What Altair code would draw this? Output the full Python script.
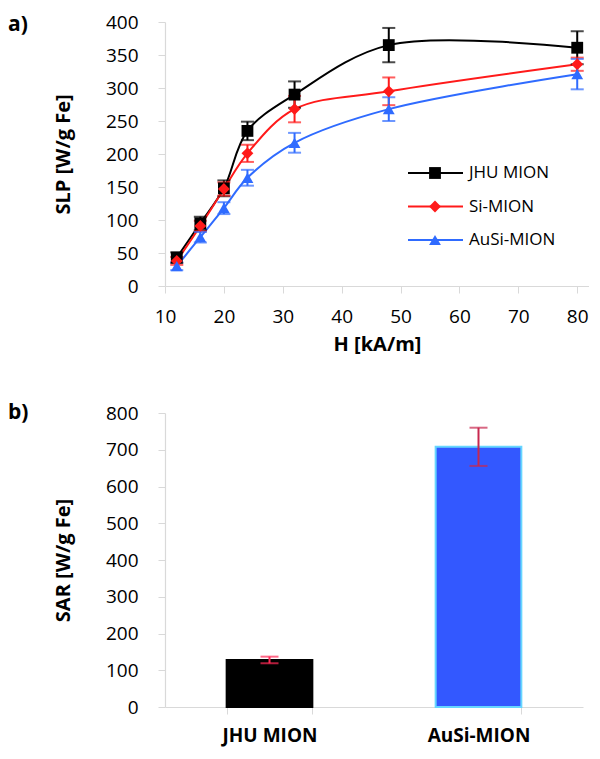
import altair as alt
import pandas as pd

# ---- data (panel a) ----
H = [12, 16, 20, 24, 32, 48, 80]
jhu = [43, 95, 148, 235, 290, 365, 361]
jhu_err = [8, 10, 12, 14, 20, 26, 25]
si = [38, 91, 147, 201, 268, 295, 336]
si_err = [6, 8, 10, 13, 20, 21, 10]
ausi = [30, 74, 118, 164, 217, 268, 321]
ausi_err = [6, 8, 9, 12, 15, 18, 23]
series = ["JHU MION", "Si-MION", "AuSi-MION"]
colors = ["#000000", "#ff1a1a", "#2f6bff"]
shapes = ["square", "diamond", "triangle-up"]
x_ticks = [10, 20, 30, 40, 50, 60, 70, 80]
y_ticks = [0, 50, 100, 150, 200, 250, 300, 350, 400]

# ---- data (panel b) ----
bar_names = ["JHU MION", "AuSi-MION"]
sar = [128, 708]
sar_err = [9, 52]
bar_fill = ["#000000", "#3358ff"]
bar_stroke = ["#000000", "#66d6ff"]
err_col = ["#ff2a55", "#c8284f"]
sar_ticks = [0, 100, 200, 300, 400, 500, 600, 700, 800]

FONT = "Open Sans"

rows = []
for name, vals, errs in [(series[0], jhu, jhu_err), (series[1], si, si_err), (series[2], ausi, ausi_err)]:
    for h, v, e in zip(H, vals, errs):
        rows.append({"series": name, "H": h, "value": v, "lo": v - e, "hi": v + e})
df = pd.DataFrame(rows)

xscale = alt.Scale(domain=[10, 82], nice=False, zero=False)
yscale = alt.Scale(domain=[0, 400], nice=False)
xaxis = alt.Axis(values=x_ticks, title="H [kA/m]", grid=False, tickSize=7, labelFlush=False,
                 labelPadding=14, titlePadding=8)
yaxis = alt.Axis(values=y_ticks, title="SLP [W/g Fe]", grid=False, tickSize=7, labelFlush=False,
                 labelPadding=20, titlePadding=32)
cscale = alt.Scale(domain=series, range=colors)
sscale = alt.Scale(domain=series, range=shapes)

def X():
    return alt.X("H:Q", scale=xscale, axis=xaxis)

def Y(f):
    return alt.Y(f"{f}:Q", scale=yscale, axis=yaxis)

col = alt.Color("series:N", scale=cscale, legend=None)

base = alt.Chart(df)
line = base.mark_line(interpolate="catmull-rom", strokeWidth=2).encode(x=X(), y=Y("value"), color=col, detail="series:N")
err = base.mark_rule(strokeWidth=2).encode(x=X(), y=Y("lo"), y2="hi:Q", color=col)
cap_lo = base.mark_tick(orient="horizontal", size=13, thickness=2).encode(x=X(), y=Y("lo"), color=col)
cap_hi = base.mark_tick(orient="horizontal", size=13, thickness=2).encode(x=X(), y=Y("hi"), color=col)
pts = base.mark_point(filled=True, size=140, opacity=1).encode(
    x=X(), y=Y("value"), color=col, shape=alt.Shape("series:N", scale=sscale, legend=None))

legend_layers = []
for i, name in enumerate(series):
    ldf = pd.DataFrame({"series": [name]})
    ly = 151 + 33.5 * i
    lb = alt.Chart(ldf)
    legend_layers.append(lb.mark_rule(strokeWidth=2, color=colors[i]).encode(
        x=alt.value(243), x2=alt.value(298), y=alt.value(ly)))
    legend_layers.append(lb.mark_point(filled=True, size=140, opacity=1, color=colors[i], shape=shapes[i]).encode(
        x=alt.value(270), y=alt.value(ly)))
    legend_layers.append(lb.mark_text(align="left", baseline="middle", font=FONT, fontSize=17, color="#000").encode(
        x=alt.value(304), y=alt.value(ly), text="series:N"))

lab_a = alt.Chart(pd.DataFrame({"t": ["a)"]})).mark_text(
    font=FONT, fontSize=21, fontWeight="bold", align="left", baseline="middle", color="#000"
).encode(x=alt.value(-157), y=alt.value(3), text="t:N")

top = alt.layer(line, err, cap_lo, cap_hi, pts, *legend_layers, lab_a).properties(width=424, height=264)

# ---- panel b ----
bdf = pd.DataFrame({"name": bar_names, "sar": sar,
                    "lo": [v - e for v, e in zip(sar, sar_err)],
                    "hi": [v + e for v, e in zip(sar, sar_err)]})
bx = alt.X("name:N", sort=bar_names,
           scale=alt.Scale(paddingInner=0.59, paddingOuter=0.295),
           axis=alt.Axis(title=None, labelAngle=0, labelFontWeight="bold", labelFontSize=19,
                         tickBand="extent", tickSize=7, labelPadding=12))
byscale = alt.Scale(domain=[0, 800], nice=False)
byaxis = alt.Axis(values=sar_ticks, title="SAR [W/g Fe]", grid=False, tickSize=7, labelFlush=False,
                  labelPadding=20, titlePadding=32)

def BY(f):
    return alt.Y(f"{f}:Q", scale=byscale, axis=byaxis)

bb = alt.Chart(bdf)
bars = bb.mark_bar(strokeWidth=2).encode(
    x=bx, y=BY("sar"),
    fill=alt.Fill("name:N", scale=alt.Scale(domain=bar_names, range=bar_fill), legend=None),
    stroke=alt.Stroke("name:N", scale=alt.Scale(domain=bar_names, range=bar_stroke), legend=None))

err_layers = []
for i, name in enumerate(bar_names):
    sub = bb.transform_filter(alt.datum.name == name)
    err_layers.append(sub.mark_rule(strokeWidth=2, color=err_col[i]).encode(x=bx, y=BY("lo"), y2="hi:Q"))
    err_layers.append(sub.mark_tick(orient="horizontal", size=18, thickness=2, color=err_col[i]).encode(x=bx, y=BY("lo")))
    err_layers.append(sub.mark_tick(orient="horizontal", size=18, thickness=2, color=err_col[i]).encode(x=bx, y=BY("hi")))

lab_b = alt.Chart(pd.DataFrame({"t": ["b)"]})).mark_text(
    font=FONT, fontSize=21, fontWeight="bold", align="left", baseline="middle", color="#000"
).encode(x=alt.value(-157), y=alt.value(0), text="t:N")

bottom = alt.layer(bars, *err_layers, lab_b).properties(width=418, height=294)

chart = alt.vconcat(top, bottom, spacing=48).properties(
    padding={"left": 0, "top": 5, "right": 0, "bottom": 5}
).configure_view(stroke=None).configure_axis(
    domainColor="#d9d9d9", tickColor="#d9d9d9", domainWidth=1.2,
    labelFont=FONT, labelFontSize=19, labelColor="#000",
    titleFont=FONT, titleFontSize=20, titleFontWeight="bold", titleColor="#000"
).configure_concat(spacing=48)

chart.save("out.html", embed_options={"renderer": "svg", "actions": False})
